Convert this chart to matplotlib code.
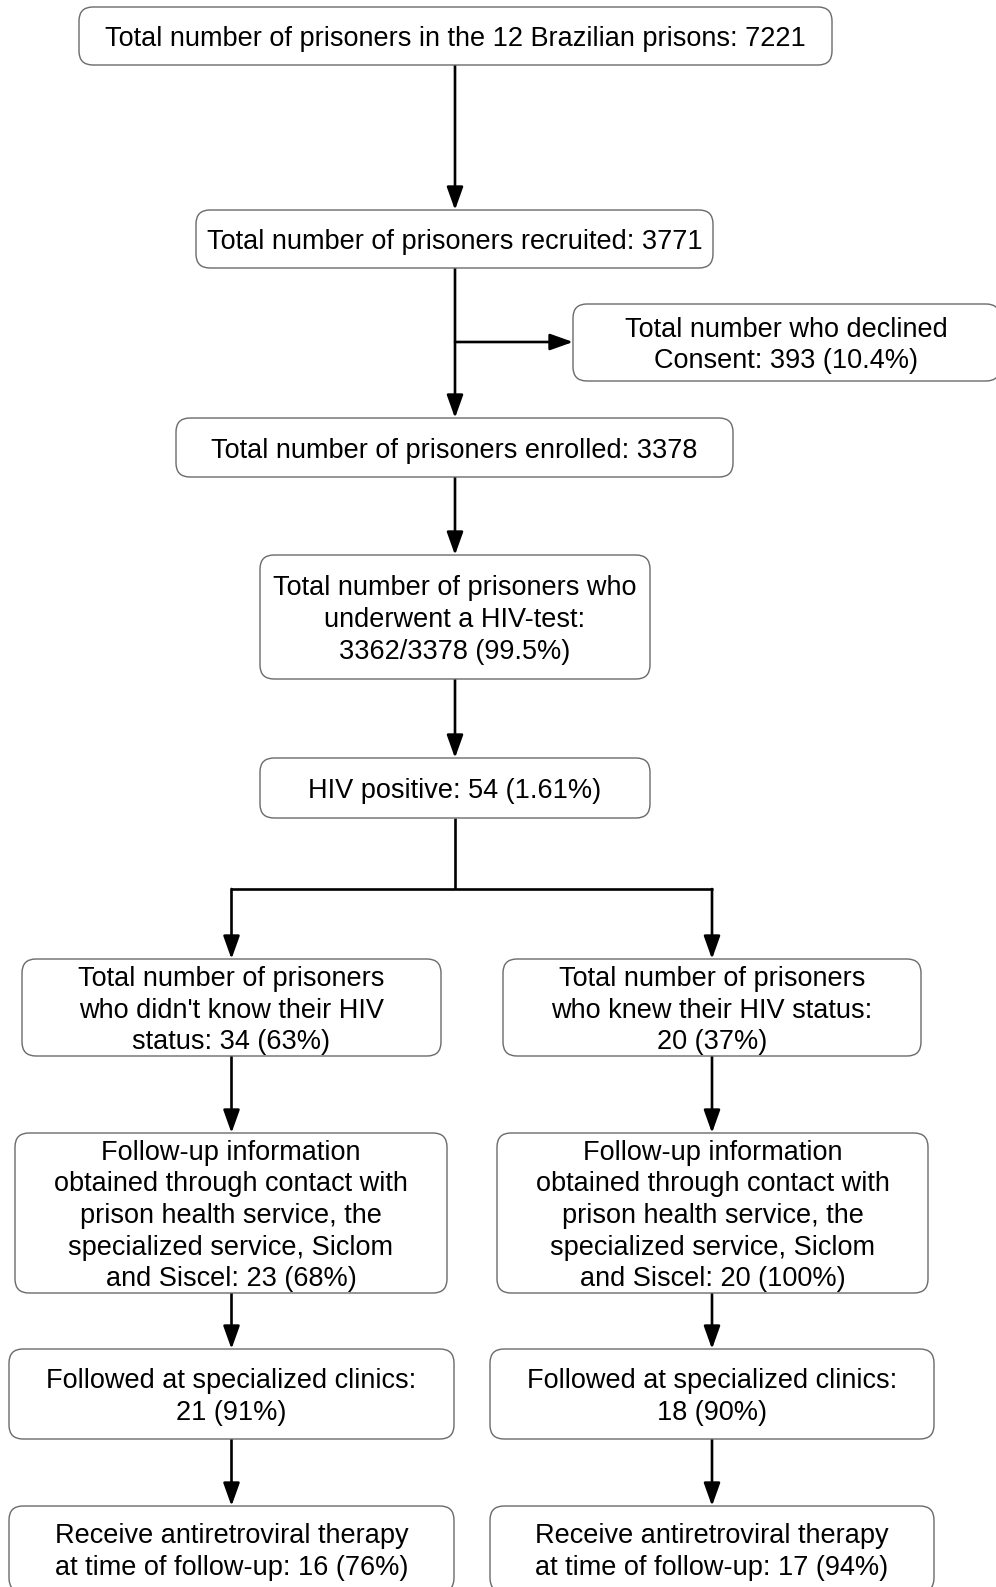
import matplotlib
matplotlib.use("Agg")
import matplotlib.pyplot as plt
from matplotlib.patches import FancyBboxPatch

plt.rcParams["font.family"] = ["Liberation Sans", "DejaVu Sans"]

# box texts
TOP_TEXTS = [
    "Total number of prisoners in the 12 Brazilian prisons: 7221",
    "Total number of prisoners recruited: 3771",
    "Total number of prisoners enrolled: 3378",
    "Total number of prisoners who\nunderwent a HIV-test:\n3362/3378 (99.5%)",
    "HIV positive: 54 (1.61%)",
]
DECLINED_TEXT = "Total number who declined\nConsent: 393 (10.4%)"
LEFT_TEXTS = [
    "Total number of prisoners\nwho didn't know their HIV\nstatus: 34 (63%)",
    "Follow-up information\nobtained through contact with\nprison health service, the\nspecialized service, Siclom\nand Siscel: 23 (68%)",
    "Followed at specialized clinics:\n21 (91%)",
    "Receive antiretroviral therapy\nat time of follow-up: 16 (76%)",
]
RIGHT_TEXTS = [
    "Total number of prisoners\nwho knew their HIV status:\n20 (37%)",
    "Follow-up information\nobtained through contact with\nprison health service, the\nspecialized service, Siclom\nand Siscel: 20 (100%)",
    "Followed at specialized clinics:\n18 (90%)",
    "Receive antiretroviral therapy\nat time of follow-up: 17 (94%)",
]

# layout (pixels): (x0, y0, x1, y1)
TOP_BOXES = [(79, 7, 832, 65), (196, 210, 713, 268), (176, 418, 733, 477),
             (260, 555, 650, 679), (260, 758, 650, 818)]
DECLINED_BOX = (573, 304, 1000, 381)
LEFT_BOXES = [(22, 959, 441, 1056), (15, 1133, 447, 1293),
              (9, 1349, 454, 1439), (9, 1506, 454, 1592)]
RIGHT_BOXES = [(503, 959, 921, 1056), (497, 1133, 928, 1293),
               (490, 1349, 934, 1439), (490, 1506, 934, 1592)]

W, H = 996, 1587
fig = plt.figure(figsize=(W / 100, H / 100), dpi=100)
ax = fig.add_axes([0, 0, 1, 1])
ax.set_xlim(0, W)
ax.set_ylim(H, 0)
ax.axis("off")

FS = 19.5


def box(b, text):
    x0, y0, x1, y1 = b
    p = FancyBboxPatch((x0, y0), x1 - x0, y1 - y0,
                       boxstyle="round,pad=0,rounding_size=14",
                       fc="white", ec="#6a6a6a", lw=1.0, zorder=2)
    ax.add_patch(p)
    ax.text((x0 + x1) / 2, (y0 + y1) / 2 + 3, text, ha="center", va="center",
            fontsize=FS, linespacing=1.28, zorder=3, color="black")


def arrow(x0, y0, x1, y1):
    ax.annotate("", xy=(x1, y1), xytext=(x0, y0),
                arrowprops=dict(arrowstyle="-|>,head_length=1.4,head_width=0.5",
                                lw=1.9, color="black", shrinkA=0, shrinkB=0),
                zorder=1)


def line(xs, ys):
    ax.plot(xs, ys, color="black", lw=1.9, solid_capstyle="butt", zorder=1)


for b, t in zip(TOP_BOXES, TOP_TEXTS):
    box(b, t)
box(DECLINED_BOX, DECLINED_TEXT)
for b, t in zip(LEFT_BOXES, LEFT_TEXTS):
    box(b, t)
for b, t in zip(RIGHT_BOXES, RIGHT_TEXTS):
    box(b, t)

cx = 455
for a, b in zip(TOP_BOXES[:-1], TOP_BOXES[1:]):
    arrow(cx, a[3], cx, b[1])
# declined branch
ymid = 342
arrow(cx, ymid, DECLINED_BOX[0], ymid)

# split
ysplit = 889
lx = (LEFT_BOXES[0][0] + LEFT_BOXES[0][2]) / 2
rx = (RIGHT_BOXES[0][0] + RIGHT_BOXES[0][2]) / 2
line([cx, cx], [TOP_BOXES[-1][3], ysplit])
line([lx - 0.9, rx + 0.9], [ysplit, ysplit])
arrow(lx, ysplit, lx, LEFT_BOXES[0][1])
arrow(rx, ysplit, rx, RIGHT_BOXES[0][1])

for col, x in ((LEFT_BOXES, lx), (RIGHT_BOXES, rx)):
    for a, b in zip(col[:-1], col[1:]):
        arrow(x, a[3], x, b[1])

fig.savefig("out.png", dpi=100, facecolor="white")
